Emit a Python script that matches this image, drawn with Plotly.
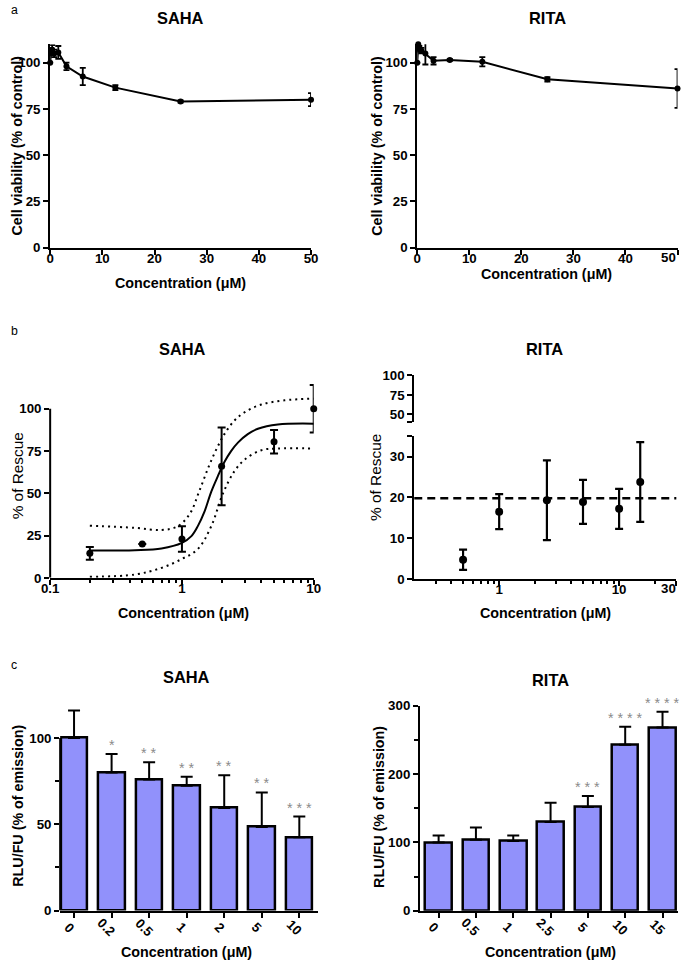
import plotly.graph_objects as go

W, H = 685, 967
FONT = "Liberation Sans, Arial, sans-serif"

# The photographed page comes out slightly reduced and shifted
# (about 685/701 with an 8 px border), so positions are written in
# target-picture pixels and converted below.
SX, SY, BORDER = 685 / 701, 967 / 983, 8
FS = 701 / 685  # font scale to make up for the reduction

# ---------------- data ----------------
# a: cell viability
via_conc = [0, 0.195, 0.39, 0.78, 1.56, 3.125, 6.25, 12.5, 25, 50]
saha_via = [100, 106, 107, 105, 105.5, 98, 92.5, 86.5, 79, 80]
saha_via_err = [0, 2, 2.5, 2, 3.5, 2, 4.7, 1.3, 0.6, 3.5]
rita_via = [100, 110, 107.5, 106.5, 105, 101, 101.5, 100.5, 91, 86]
rita_via_err = [0, 1, 1.5, 1.5, 6, 2, 0.5, 2.5, 1.2, 10.5]

# b: % of rescue
saha_res_conc = [0.2, 0.5, 1, 2, 5, 10]
saha_res = [14.5, 20, 23, 66, 80.5, 100]
saha_res_err = [3.8, 0, 7.5, 23, 7, 14]

# fitted curve + confidence band
fit_conc = [0.2, 0.44, 0.7, 1.0, 1.18, 1.32, 1.48, 1.67, 1.87, 2.1, 2.36, 2.66, 3.16, 3.77, 5.34, 10]
fit_mid = [16.2, 16.4, 17.4, 20.7, 24.7, 30.6, 39, 51, 60, 68.5, 75, 80, 85, 88.2, 90.7, 91.2]
band_hi_conc = [0.2, 0.44, 0.7, 0.93, 1.15, 1.35, 1.6, 1.85, 2.1, 2.5, 3.0, 4.0, 6.0, 10]
band_hi = [30.8, 29.6, 28.3, 30.5, 38, 51, 66, 77, 85, 93, 98, 102.5, 105, 106]
band_lo_conc = [0.2, 0.44, 0.7, 1.0, 1.32, 1.67, 2.05, 2.5, 3.0, 4.0, 5.3, 10]
band_lo = [0.6, 2, 5.9, 11.2, 17, 30.6, 50, 63, 70, 75.5, 76.5, 76.5]

rita_res_conc = [0.5, 1, 2.5, 5, 10, 15]
rita_res = [4.7, 16.5, 19.3, 18.9, 17.2, 23.8]
rita_res_err = [2.5, 4.3, 9.8, 5.4, 4.9, 9.8]
rita_res_mean = 19.8

# c: RLU/FU
saha_bar_cat = ["0", "0.2", "0.5", "1", "2", "5", "10"]
saha_bar = [100, 80, 76, 72.3, 59.5, 48.5, 42.5]
saha_bar_err = [16, 10.8, 10, 5.3, 19, 20, 12]
saha_stars = ["", "*", "* *", "* *", "* *", "* *", "* * *"]

rita_bar_cat = ["0", "0.5", "1", "2.5", "5", "10", "15"]
rita_bar = [100, 104, 102, 130, 152, 243, 268]
rita_bar_err = [10, 18, 8, 28, 16, 26, 23]
rita_stars = ["", "", "", "", "* * *", "* * * *", "* * * *"]


def px_x(p):
    return min(max((p / SX - BORDER) / W, 0), 1)


def px_y(p):
    return min(max(1 - (p / SY - BORDER) / H, 0), 1)


def dx(a, b):
    return [px_x(a), px_x(b)]


def dy(top, bottom):
    return [px_y(bottom), px_y(top)]


def fs(v):
    return round(v * FS, 1)


axis_style = dict(
    showline=True, linecolor="black", linewidth=2, mirror=False,
    ticks="outside", ticklen=5, tickwidth=2, tickcolor="black",
    showgrid=False, zeroline=False,
    tickfont=dict(family=FONT, size=fs(13), color="black", weight="bold"),
)
xstyle = dict(axis_style, ticklabelstandoff=-8)

fig = go.Figure()

# ---- a ----
for vals, errs, xa, ya in [(saha_via, saha_via_err, "x", "y"),
                           (rita_via, rita_via_err, "x2", "y2")]:
    fig.add_trace(go.Scatter(
        x=via_conc, y=vals, mode="lines+markers", xaxis=xa, yaxis=ya,
        line=dict(color="black", width=2),
        marker=dict(color="black", size=6),
        error_y=dict(type="data", array=errs, color="black", thickness=1.8, width=3),
        cliponaxis=False, showlegend=False,
    ))

# ---- b SAHA ----
fig.add_trace(go.Scatter(x=band_hi_conc, y=band_hi, mode="lines", xaxis="x3", yaxis="y3",
                         line=dict(color="black", width=2, dash="2px,4px", shape="spline"),
                         showlegend=False))
fig.add_trace(go.Scatter(x=band_lo_conc, y=band_lo, mode="lines", xaxis="x3", yaxis="y3",
                         line=dict(color="black", width=2, dash="2px,4px", shape="spline"),
                         showlegend=False))
fig.add_trace(go.Scatter(x=fit_conc, y=fit_mid, mode="lines", xaxis="x3", yaxis="y3",
                         line=dict(color="black", width=2, shape="spline"),
                         showlegend=False))
fig.add_trace(go.Scatter(x=saha_res_conc, y=saha_res, mode="markers", xaxis="x3", yaxis="y3",
                         marker=dict(color="black", size=7),
                         error_y=dict(type="data", array=saha_res_err, color="black",
                                      thickness=2, width=4),
                         cliponaxis=False, showlegend=False))

# ---- b RITA ----
fig.add_trace(go.Scatter(x=rita_res_conc, y=rita_res, mode="markers", xaxis="x4", yaxis="y4",
                         marker=dict(color="black", size=8),
                         error_y=dict(type="data", array=rita_res_err, color="black",
                                      thickness=2.2, width=4),
                         showlegend=False))
fig.add_trace(go.Scatter(x=[], y=[], xaxis="x4", yaxis="y5", showlegend=False, hoverinfo="skip"))

# ---- c ----
for cats, vals, errs, xa, ya in [(saha_bar_cat, saha_bar, saha_bar_err, "x5", "y6"),
                                 (rita_bar_cat, rita_bar, rita_bar_err, "x6", "y7")]:
    fig.add_trace(go.Bar(
        x=cats, y=vals, xaxis=xa, yaxis=ya, width=0.71,
        marker=dict(color="#9191fb", line=dict(color="black", width=2.5)),
        error_y=dict(type="data", array=errs, arrayminus=[0] * len(errs), symmetric=False,
                     color="black", thickness=2, width=6),
        showlegend=False,
    ))

log_minor = [0.2, 0.3, 0.4, 0.5, 0.6, 0.7, 0.8, 0.9, 2, 3, 4, 5, 6, 7, 8, 9]

fig.update_layout(
    width=W, height=H, margin=dict(l=0, r=0, t=0, b=0),
    paper_bgcolor="white", plot_bgcolor="white", showlegend=False,
    font=dict(family=FONT, color="black"),
    bargap=0,
    # a SAHA
    xaxis=dict(xstyle, domain=dx(49, 310), range=[0, 50], tickvals=[0, 10, 20, 30, 40, 50], anchor="y"),
    yaxis=dict(axis_style, domain=dy(45, 248.3), range=[0, 110], tickvals=[0, 25, 50, 75, 100], anchor="x"),
    # a RITA (last label drawn as annotation so it stays inside the page)
    xaxis2=dict(xstyle, domain=dx(416.3, 676.7), range=[0, 50], tickvals=[0, 10, 20, 30, 40, 50],
                ticktext=["0", "10", "20", "30", "40", ""], anchor="y2"),
    yaxis2=dict(axis_style, domain=dy(45, 248.3), range=[0, 110], tickvals=[0, 25, 50, 75, 100], anchor="x2"),
    # b SAHA
    xaxis3=dict(xstyle, type="log", domain=dx(49, 312.7), range=[-1, 1], tickvals=[0.1, 1, 10],
                ticktext=["0.1", "1", "10"], anchor="y3",
                minor=dict(tickvals=log_minor, ticks="outside", ticklen=3, tickwidth=1.5, tickcolor="black")),
    yaxis3=dict(axis_style, showline=False, domain=dy(382.3, 578.3), range=[0, 116],
                tickvals=[0, 25, 50, 75, 100], anchor="x3"),
    # b RITA
    xaxis4=dict(xstyle, type="log", domain=dx(413.3, 675.5), range=[-0.708, 1.477],
                tickvals=[1, 10, 30], ticktext=["1", "10", ""], anchor="y4",
                minor=dict(tickvals=[0.3, 0.4, 0.5, 0.6, 0.7, 0.8, 0.9, 2, 3, 4, 5, 6, 7, 8, 9, 20],
                           ticks="outside", ticklen=3, tickwidth=1.5, tickcolor="black")),
    yaxis4=dict(axis_style, domain=dy(436.9, 579.3), range=[0, 35], tickvals=[0, 10, 20, 30, 35],
                ticktext=["0", "10", "20", "30", ""], anchor="x4"),
    yaxis5=dict(axis_style, domain=dy(376, 422.8), range=[40, 100], tickvals=[40, 50, 75, 100],
                ticktext=["", "50", "75", "100"], anchor="x4"),
    # c SAHA
    xaxis5=dict(xstyle, type="category", domain=dx(59, 316.7), range=[-0.37, 6.49],
                showticklabels=False, anchor="y6"),
    yaxis6=dict(axis_style, showline=False, domain=dy(703.9, 910.7), range=[0, 120],
                tickvals=[0, 50, 100], anchor="x5",
                minor=dict(tickvals=[25, 75], ticks="outside", ticklen=4, tickwidth=2, tickcolor="black")),
    # c RITA
    xaxis6=dict(xstyle, type="category", domain=dx(419, 677.2), range=[-0.5, 6.415],
                showticklabels=False, anchor="y7"),
    yaxis7=dict(axis_style, domain=dy(706, 911), range=[0, 300], tickvals=[0, 100, 200, 300], anchor="x6",
                minor=dict(tickvals=[50, 150, 250], ticks="outside", ticklen=4, tickwidth=2, tickcolor="black")),
)

# partial y-axis lines (axis stops at 100 while error bars go beyond)
fig.add_shape(type="line", xref="x3 domain", yref="y3", x0=0, x1=0, y0=0, y1=100,
              line=dict(color="black", width=2))
fig.add_shape(type="line", xref="x5 domain", yref="y6", x0=0, x1=0, y0=0, y1=100,
              line=dict(color="black", width=2))
# RITA mean rescue line
fig.add_shape(type="line", xref="x4 domain", yref="y4", x0=0, x1=1, y0=rita_res_mean, y1=rita_res_mean,
              line=dict(color="black", width=2.5, dash="8px,5px"))

ann = []


def text(x, y, s, size=14, bold=True, angle=0, color="black", **kw):
    ann.append(dict(x=x, y=y, xref=kw.pop("xref", "paper"), yref=kw.pop("yref", "paper"),
                    text=s, showarrow=False, textangle=angle,
                    font=dict(family=FONT, size=fs(size), color=color, weight="bold" if bold else "normal"),
                    xanchor=kw.pop("xanchor", "center"), yanchor=kw.pop("yanchor", "middle"), **kw))


# panel letters
text(px_x(8), px_y(11), "a", size=12, bold=False, xanchor="left")
text(px_x(8), px_y(332), "b", size=12, bold=False, xanchor="left")
text(px_x(8), px_y(665), "c", size=12, bold=False, xanchor="left")

# titles
text(px_x(179), px_y(19), "SAHA", size=16)
text(px_x(546.7), px_y(19), "RITA", size=16)
text(px_x(181), px_y(349.3), "SAHA", size=16)
text(px_x(544), px_y(349.3), "RITA", size=16)
text(px_x(185), px_y(677.7), "SAHA", size=16)
text(px_x(549.3), px_y(680), "RITA", size=16)

# right-edge tick labels
text(1, px_y(258.3), "50", size=13, xanchor="right")
text(1, px_y(588.5), "30", size=13, xanchor="right")

# axis titles
conc = "Concentration (μM)"
text(px_x(179), px_y(283.3), conc)
text(px_x(545.8), px_y(275), conc)
text(px_x(182.5), px_y(613.3), conc)
text(px_x(544.2), px_y(613.3), conc)
text(px_x(185), px_y(952), conc)
text(px_x(550), px_y(952), conc)

text(px_x(15.5), px_y(146.7), "Cell viability (% of control)", angle=-90)
text(px_x(375.8), px_y(146.7), "Cell viability (% of control)", angle=-90)
text(px_x(16), px_y(476.7), "% of Rescue", size=15, bold=False, angle=-90)
text(px_x(375), px_y(477.5), "% of Rescue", size=15, bold=False, angle=-90)
text(px_x(16), px_y(805.8), "RLU/FU (% of emission)", angle=-90)
text(px_x(378.5), px_y(806.7), "RLU/FU (% of emission)", angle=-90)

# rotated category labels + significance stars
for cats, vals, errs, stars, xa, ya in [(saha_bar_cat, saha_bar, saha_bar_err, saha_stars, "x5", "y6"),
                                        (rita_bar_cat, rita_bar, rita_bar_err, rita_stars, "x6", "y7")]:
    for i, (c, v, e, s) in enumerate(zip(cats, vals, errs, stars)):
        text(i, px_y(927.5), c, size=13, angle=45, xref=xa, xshift=-5)
        if s:
            text(i, v + e, s, size=14, bold=False, color="#8a8a8a", xref=xa, yref=ya,
                 yanchor="bottom", yshift=-1)

fig.update_layout(annotations=ann)

fig.write_html("out.html", config={"displayModeBar": False},
               post_script="document.body.style.margin='0';")
